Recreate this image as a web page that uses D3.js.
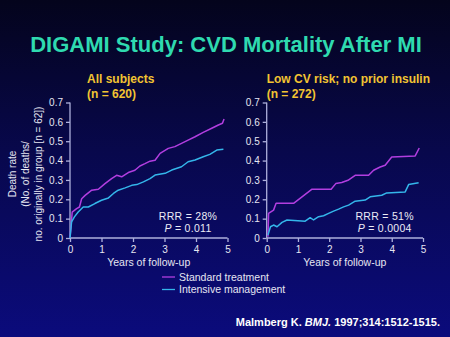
<!DOCTYPE html>
<html>
<head>
<meta charset="utf-8">
<script src="https://cdn.jsdelivr.net/npm/d3@7"></script>
<style>
  html, body { margin: 0; padding: 0; background: #05051f; }
  svg { display: block; font-family: "Liberation Sans", Arial, sans-serif; }
</style>
</head>
<body>
<div id="chart"></div>
<script>
// years of follow-up, death rate
const allStandard = [[0,0],[0.07,0.134],[0.21,0.152],[0.3,0.16],[0.37,0.203],[0.48,0.22],[0.69,0.247],[0.9,0.252],[1.11,0.281],[1.32,0.307],[1.48,0.324],[1.64,0.316],[1.85,0.338],[2.06,0.35],[2.22,0.372],[2.38,0.384],[2.54,0.397],[2.7,0.402],[2.86,0.437],[3.12,0.463],[3.33,0.472],[3.54,0.489],[3.75,0.506],[3.97,0.523],[4.23,0.546],[4.5,0.567],[4.71,0.584],[4.84,0.593],[4.89,0.615]];
const allIntensive = [[0,0],[0.05,0.083],[0.14,0.109],[0.26,0.134],[0.42,0.16],[0.58,0.16],[0.79,0.178],[1.0,0.195],[1.22,0.207],[1.38,0.23],[1.53,0.247],[1.75,0.259],[1.96,0.272],[2.12,0.276],[2.33,0.29],[2.54,0.307],[2.7,0.325],[3.02,0.334],[3.23,0.351],[3.54,0.368],[3.75,0.394],[3.97,0.403],[4.23,0.42],[4.44,0.432],[4.66,0.454],[4.87,0.458]];
const lowStandard = [[0.04,0.007],[0.06,0.127],[0.22,0.144],[0.3,0.179],[0.86,0.179],[1.45,0.252],[2.06,0.252],[2.21,0.281],[2.4,0.287],[2.6,0.298],[2.83,0.324],[3.26,0.324],[3.42,0.35],[3.63,0.367],[3.79,0.376],[4.0,0.418],[4.75,0.424],[4.88,0.465]];
const lowIntensive = [[0.04,0.015],[0.12,0.058],[0.22,0.067],[0.33,0.058],[0.49,0.081],[0.65,0.093],[1.23,0.087],[1.39,0.105],[1.5,0.093],[1.66,0.11],[1.82,0.115],[1.98,0.127],[2.14,0.139],[2.3,0.149],[2.46,0.161],[2.62,0.17],[2.83,0.19],[3.15,0.196],[3.31,0.213],[3.68,0.221],[3.84,0.233],[4.43,0.238],[4.54,0.276],[4.86,0.285]];

const yTicks = [0, 0.1, 0.2, 0.3, 0.4, 0.5, 0.6, 0.7];
const xTicks = [0, 1, 2, 3, 4, 5];
const panelTitles = [["All subjects", "(n = 620)"], ["Low CV risk; no prior insulin", "(n = 272)"]];
const panelStats = [["RRR = 28%", "0.011"], ["RRR = 51%", "0.0004"]];
const seriesNames = ["Standard treatment", "Intensive management"];
const colors = ["#b23ee0", "#34b6ea"];

const width = 450, height = 337;
const svg = d3.select("#chart").append("svg")
  .attr("width", width).attr("height", height);

const grad = svg.append("defs").append("linearGradient")
  .attr("id", "bg").attr("x1", 0).attr("y1", 0).attr("x2", 0).attr("y2", 1);
grad.append("stop").attr("offset", "0%").attr("stop-color", "#04041c");
grad.append("stop").attr("offset", "45%").attr("stop-color", "#08084c");
grad.append("stop").attr("offset", "100%").attr("stop-color", "#0b0b7c");
svg.append("rect").attr("width", width).attr("height", height).attr("fill", "url(#bg)");

svg.append("text")
  .attr("x", 226).attr("y", 52)
  .attr("text-anchor", "middle")
  .attr("fill", "#2fdab0")
  .style("font-size", "22px").style("font-weight", "bold")
  .text("DIGAMI Study: CVD Mortality After MI");

// y-axis title
const yTitle = ["Death rate", "(No. of deaths/", "no. originally in group [n = 62])"];
yTitle.forEach((t, i) => {
  const cx = 12.5 + i * 13;
  svg.append("text")
    .attr("transform", `translate(${cx + 3.5},174) rotate(-90)`)
    .attr("text-anchor", "middle")
    .attr("fill", "#e6e6f2")
    .style("font-size", "10px")
    .text(t);
});

const panels = [
  { left: 70, right: 227.5, data: [allStandard, allIntensive] },
  { left: 266.7, right: 423, data: [lowStandard, lowIntensive] }
];
const plotTop = 102.5, plotBottom = 238;

const line = d3.line().curve(d3.curveLinear);

panels.forEach((p, k) => {
  const x = d3.scaleLinear().domain([0, 5]).range([p.left, p.right]);
  const y = d3.scaleLinear().domain([0, 0.7]).range([plotBottom, plotTop]);
  const g = svg.append("g");

  const yAxis = g.append("g")
    .attr("transform", `translate(${p.left},0)`)
    .call(d3.axisLeft(y).tickValues(yTicks).tickSize(4).tickPadding(3)
      .tickFormat(d => d === 0 ? "0" : d3.format(".1f")(d)));
  const xAxis = g.append("g")
    .attr("transform", `translate(0,${plotBottom})`)
    .call(d3.axisBottom(x).tickValues(xTicks).tickSize(4).tickPadding(4)
      .tickFormat(d3.format("d")));

  [yAxis, xAxis].forEach(a => {
    a.select(".domain").attr("stroke", "#aeb0dc").attr("stroke-width", 1.3);
    a.selectAll(".tick line").attr("stroke", "#aeb0dc").attr("stroke-width", 1.3);
    a.selectAll(".tick text").attr("fill", "#e6e6f2")
      .style("font-size", "10px").style("font-family", "Liberation Sans, Arial, sans-serif");
  });
  yAxis.select(".domain").attr("d", `M0,${plotBottom}V${plotTop}`);
  xAxis.select(".domain").attr("d", `M${p.left},0H${p.right}`);

  g.append("text")
    .attr("x", (p.left + p.right) / 2).attr("y", 266)
    .attr("text-anchor", "middle").attr("fill", "#e6e6f2")
    .style("font-size", "10.5px")
    .text("Years of follow-up");

  panelTitles[k].forEach((t, i) => {
    g.append("text")
      .attr("x", p.left + (k === 0 ? 17 : 0)).attr("y", 83 + i * 15)
      .attr("fill", "#f2c432")
      .style("font-size", "12px").style("font-weight", "bold")
      .text(t);
  });

  p.data.forEach((s, i) => {
    g.append("path")
      .attr("d", line(s.map(d => [x(d[0]), y(d[1])])))
      .attr("fill", "none")
      .attr("stroke", colors[i])
      .attr("stroke-width", 1.5)
      .attr("stroke-linejoin", "round");
  });

  const sx = p.left + 118;
  g.append("text")
    .attr("x", sx).attr("y", 220)
    .attr("text-anchor", "middle").attr("fill", "#ececf6")
    .style("font-size", "10.5px").style("letter-spacing", "0.3px")
    .text(panelStats[k][0]);
  const pt = g.append("text")
    .attr("x", sx).attr("y", 232)
    .attr("text-anchor", "middle").attr("fill", "#ececf6")
    .style("font-size", "10.5px").style("letter-spacing", "0.3px");
  pt.append("tspan").style("font-style", "italic").text("P");
  pt.append("tspan").text(" = " + panelStats[k][1]);
});

// legend
seriesNames.forEach((n, i) => {
  const ly = 277 + i * 12.5;
  svg.append("line")
    .attr("x1", 162).attr("x2", 175).attr("y1", ly).attr("y2", ly)
    .attr("stroke", colors[i]).attr("stroke-width", 1.3);
  svg.append("text")
    .attr("x", 179).attr("y", ly + 3.6)
    .attr("fill", "#e6e6f2")
    .style("font-size", "10.5px")
    .text(n);
});

const cite = svg.append("text")
  .attr("x", 440).attr("y", 325.5)
  .attr("text-anchor", "end").attr("fill", "#ffffff")
  .style("font-size", "11px").style("font-weight", "bold");
cite.append("tspan").text("Malmberg K. ");
cite.append("tspan").style("font-style", "italic").text("BMJ.");
cite.append("tspan").text(" 1997;314:1512-1515.");
</script>
</body>
</html>
